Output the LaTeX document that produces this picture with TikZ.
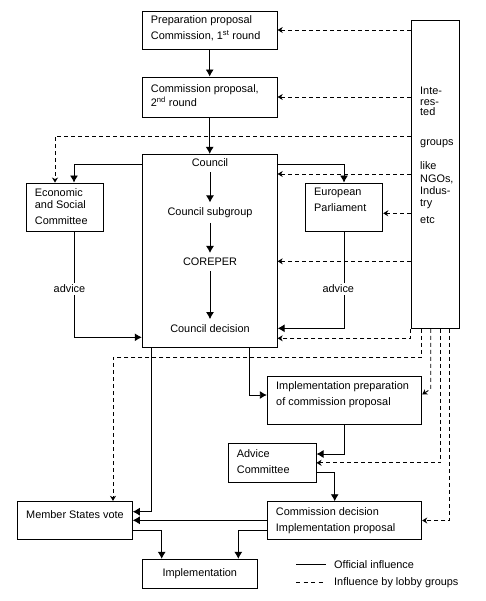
\documentclass[tikz,border=0pt]{standalone}
\usepackage{fontspec}
\setmainfont{Liberation Sans}
\usetikzlibrary{arrows.meta}
\begin{document}
\begin{tikzpicture}[x=1pt,y=-1pt,
  every node/.style={font=\fontsize{10.9}{16}\selectfont},
  box/.style={draw, line width=0.9pt, inner sep=0pt},
  txt/.style={inner sep=0pt, align=left, anchor=north west},
  innerlab/.style={inner xsep=0pt, inner ysep=5pt},
  official/.style={line width=0.9pt, -{Latex[length=7pt,width=8pt]}},
  lobby/.style={line width=0.9pt, dash pattern=on 4pt off 3pt, -{Stealth[length=5pt,width=6pt,inset=1.5pt]}},
  plain/.style={line width=0.9pt},
  lab/.style={fill=white, inner sep=1.5pt}
]
\useasboundingbox (0,0) rectangle (485,601);
% boxes
\node[box, minimum width=135pt, minimum height=38pt] (prep) at (209.7,30) {};
\node[box, minimum width=135pt, minimum height=40pt] (comm2) at (209.7,97) {};
\node[box, minimum width=48pt, minimum height=307.6pt] (groups) at (435.3,174.5) {};
\node[box, minimum width=77.5pt, minimum height=48pt] (esc) at (65,207) {};
\node[box, minimum width=135pt, minimum height=192.7pt] (council) at (209.7,250.7) {};
\node[box, minimum width=77.5pt, minimum height=48pt] (ep) at (344,207) {};
\node[box, minimum width=154.5pt, minimum height=47.3pt] (implprep) at (344.5,400.3) {};
\node[box, minimum width=87.7pt, minimum height=39pt] (ac) at (272.2,462.8) {};
\node[box, minimum width=154.5pt, minimum height=37.6pt] (cd) at (344.5,520.5) {};
\node[box, minimum width=115pt, minimum height=38pt] (msv) at (74.8,520.3) {};
\node[box, minimum width=115pt, minimum height=29pt] (impl) at (199.8,573.8) {Implementation};
% texts
\node[txt] (preptxt) at (150.7,15.3) {Preparation proposal\\[0.5pt]Commission, 1\textsuperscript{st} round};
\node[txt] (comm2txt) at (150.7,84.3) {Commission proposal,\\[-2pt]2\textsuperscript{nd} round};
\node[txt] (grouptxt) at (420,86.8) {Inte-\\[-5pt]res-\\[-5.7pt]ted\\[13.7pt]groups\\[8.3pt]like\\[-3.3pt]NGOs,\\[-3.7pt]Indus-\\[-4.3pt]try\\[1.3pt]etc};
\node[txt] (esctxt) at (34.7,188.3) {Economic\\[-4.3pt]and Social\\Committee};
\node[txt] (eptxt) at (314,188.3) {European\\Parliament};
\node[txt] (impltxt) at (276,381.3) {Implementation preparation\\of commission proposal};
\node[txt] (actxt) at (236.7,449.3) {Advice\\Committee};
\node[txt] (cdtxt) at (275.7,507.3) {Commission decision\\Implementation proposal};
\node[txt] (msvtxt) at (26,510.3) {Member States vote};
% council internals
\node[innerlab] (ctitle) at (210,163) {Council};
\node[innerlab] (csub) at (210,212.7) {Council subgroup};
\node[innerlab] (ccore) at (210,262) {COREPER};
\node[innerlab] (cdec) at (210,328.3) {Council decision};
% official connectors
\draw[official] (prep) -- (comm2);
\draw[official] (comm2) -- (council);
\draw[official] (council.west |- 0,164) -| ([xshift=9pt]esc.north);
\draw[official] (council.east |- 0,164) -| (ep.north);
\draw[official] (ctitle) -- (csub);
\draw[official] (csub) -- (ccore);
\draw[official] (ccore) -- (cdec);
\draw[official] ([xshift=9pt]esc.south) |- (council.west |- 0,337.3);
\node[lab] (advice1) at (69.5,289) {advice};
\draw[official] (ep.south) |- (council.east |- 0,328.3);
\node[lab] (advice2) at (338.3,289) {advice};
\draw[official] (council.south -| 249,0) |- (implprep.west |- 0,395);
\draw[official] (council.south -| 151.7,0) |- (msv.east |- 0,511.7);
\draw[official] (implprep.south -| 344.7,0) |- (ac.east |- 0,454);
\draw[official] (ac.east |- 0,472.3) -| (cd.north -| 334.7,0);
\draw[official] (cd.west |- msv.east) -- (msv.east);
\draw[official] (cd.west |- 0,530.3) -| (impl.north -| 238.3,0);
\draw[official] (msv.east |- 0,530.3) -| (impl.north -| 161.7,0);
% lobby connectors
\draw[lobby] (groups.west |- prep.east) -- (prep.east);
\draw[lobby] (groups.west |- comm2.east) -- (comm2.east);
\draw[lobby] (groups.west |- 0,136) -| ([xshift=-10pt]esc.north);
\draw[lobby] (groups.west |- 0,174) -- (council.east |- 0,174);
\draw[lobby] (groups.west |- 0,213.3) -- (ep.east |- 0,213.3);
\draw[lobby] (groups.west |- 0,261.3) -- (council.east |- 0,261.3);
\draw[lobby] (groups.south west) -- (groups.west |- 0,338.3) -- (council.east |- 0,338.3);
\draw[lobby] (groups.south -| 421.7,0) -- (421.7,357.5) -| ([xshift=38.2pt]msv.north);
\draw[lobby] (groups.south -| 430.7,0) -- (430.7,389) -- (implprep.east |- 0,394.5);
\draw[lobby] (groups.south -| 440.7,0) |- (ac.east);
\draw[lobby] (groups.south -| 449.7,0) |- (cd.east);
% legend
\coordinate (l1a) at (296,564.3);
\coordinate (l1b) at (325.7,564.3);
\coordinate (l2a) at (296,582.3);
\coordinate (l2b) at (325.7,582.3);
\draw[plain] (l1a) -- (l1b);
\draw[plain, dash pattern=on 4pt off 3.5pt] (l2a) -- (l2b);
\node[anchor=west, inner sep=0pt] (leg1) at (334,564.3) {Official influence};
\node[anchor=west, inner sep=0pt] (leg2) at (334,582.3) {Influence by lobby groups};
\end{tikzpicture}
\end{document}
